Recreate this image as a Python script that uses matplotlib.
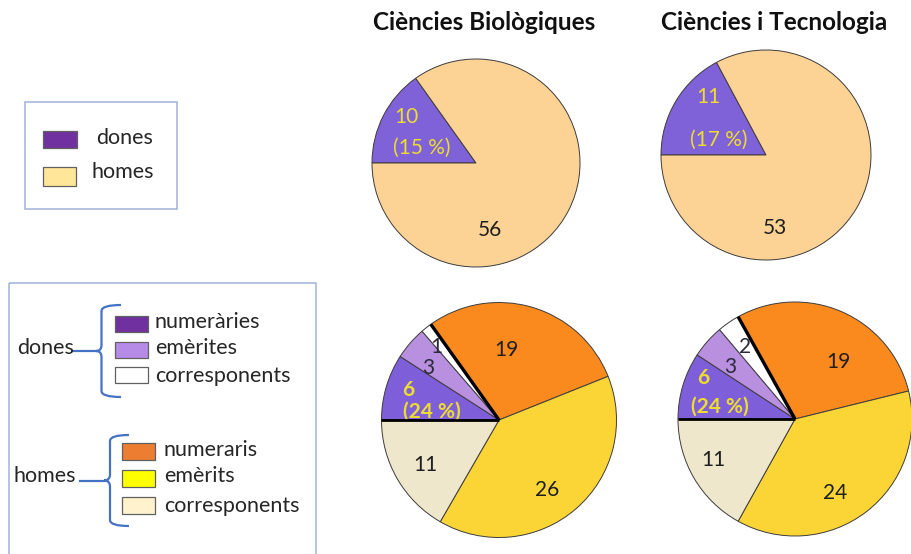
import matplotlib
matplotlib.use("Agg")
import matplotlib.pyplot as plt
import numpy as np
from matplotlib.patches import Rectangle, PathPatch
from matplotlib.path import Path

plt.rcParams['font.family'] = ['Lato', 'DejaVu Sans']

W, H = 912, 554

# ---- data ----
titles = ["Ciències Biològiques", "Ciències i Tecnologia"]
gender_labels = ["dones", "homes"]
bio_gender = [10, 56]
tec_gender = [11, 53]

status_women = ["numeràries", "emèrites", "corresponents"]
status_men = ["numeraris", "emèrits", "corresponents"]
bio_status = [6, 3, 1, 19, 26, 11]
tec_status = [6, 3, 2, 19, 24, 11]

# ---- styling ----
gender_pie_colors = ["#7F62D8", "#FDD395"]
status_pie_colors = ["#7F5FD9", "#B98FE0", "#FFFFFF", "#FB8A1E", "#FBD535", "#EFE7CB"]
gender_key_colors = ["#7030A0", "#FFE699"]
status_key_colors = ["#7030A0", "#B68BE8", "#FFFFFF", "#ED7D31", "#FFFF00", "#FFF2CC"]
YELLOW = "#EDDD2E"
DARK = "#1E1E1E"
BLUE = "#4472C4"
PIE_FS = 15
KEY_FS = 15.5
TITLE_FS = 17.5

fig = plt.figure(figsize=(W / 100, H / 100), dpi=100)


def pie_axes(cx, cy, r):
    ax = fig.add_axes([(cx - r) / W, 1 - (cy + r) / H, 2 * r / W, 2 * r / H])
    ax.set_xlim(-1, 1)
    ax.set_ylim(-1, 1)
    ax.set_aspect('equal')
    ax.axis('off')
    return ax


def draw_pie(ax, values, colors):
    ax.pie(values, colors=colors, startangle=180, counterclock=False, radius=1,
           wedgeprops=dict(edgecolor="#3C3C3C", linewidth=0.7))
    ax.set_xlim(-1, 1)
    ax.set_ylim(-1, 1)
    bounds = 180 - np.cumsum([0] + list(values)) / sum(values) * 360
    return bounds


def radial(ax, theta, lw):
    t = np.deg2rad(theta)
    ax.plot([0, np.cos(t)], [0, np.sin(t)], color="black", lw=lw,
            solid_capstyle='butt', zorder=5)


# ---- top row: women vs men ----
top_specs = [
    (476, 163, 104, bio_gender, [(-0.666, 0.445), (-0.522, 0.141), (0.135, -0.644)]),
    (766, 155, 105, tec_gender, [(-0.55, 0.555), (-0.454, 0.143), (0.086, -0.695)]),
]
for cx, cy, r, vals, pos in top_specs:
    ax = pie_axes(cx, cy, r)
    draw_pie(ax, vals, gender_pie_colors)
    pct = round(vals[0] / sum(vals) * 100)
    ax.text(*pos[0], f"{vals[0]}", color=YELLOW, fontsize=PIE_FS, ha='center', va='center')
    ax.text(*pos[1], f"({pct} %)", color=YELLOW, fontsize=PIE_FS, ha='center', va='center')
    ax.text(*pos[2], f"{vals[1]}", color=DARK, fontsize=PIE_FS, ha='center', va='center')

# ---- bottom row: by category ----
bottom_specs = [
    (499, 420, 117.5, bio_status,
     [(-0.772, 0.255), (-0.60, 0.44), (-0.53, 0.624), (0.066, 0.596),
      (0.406, -0.596), (-0.63, -0.383)], (-0.573, 0.071)),
    (795, 419, 117, tec_status,
     [(-0.784, 0.348), (-0.556, 0.447), (-0.427, 0.618), (0.37, 0.49),
      (0.342, -0.635), (-0.698, -0.35)], (-0.641, 0.105)),
]
for cx, cy, r, vals, pos, pct_pos in bottom_specs:
    ax = pie_axes(cx, cy, r)
    bounds = draw_pie(ax, vals, status_pie_colors)
    radial(ax, bounds[0], 2.0)
    radial(ax, bounds[3], 2.4)
    for i, (v, p) in enumerate(zip(vals, pos)):
        if i == 0:
            ax.text(*p, f"{v}", color=YELLOW, fontsize=PIE_FS, fontweight='bold',
                    ha='center', va='center')
        elif i in (1, 2):
            ax.text(*p, f"{v}", color="#2A2A3A", fontsize=PIE_FS, ha='center', va='center')
        else:
            ax.text(*p, f"{v}", color=DARK, fontsize=PIE_FS, ha='center', va='center')
    pct = round(vals[0] / (vals[0] + vals[3]) * 100)
    ax.text(*pct_pos, f"({pct} %)", color=YELLOW, fontsize=PIE_FS, fontweight='bold',
            ha='center', va='center')

# ---- titles ----
fig.text(484 / W, 1 - 22 / H, titles[0], fontsize=TITLE_FS, fontweight='bold',
         ha='center', va='center', color="#111111")
fig.text(774 / W, 1 - 22 / H, titles[1], fontsize=TITLE_FS, fontweight='bold',
         ha='center', va='center', color="#111111")

# ---- keys (drawn in pixel space) ----
ov = fig.add_axes([0, 0, 1, 1], zorder=-1)
ov.set_xlim(0, W)
ov.set_ylim(H, 0)
ov.axis('off')

frame_kw = dict(fill=False, edgecolor="#9FB3D9", linewidth=1.1)
ov.add_patch(Rectangle((25, 102), 152, 107, **frame_kw))
ov.add_patch(Rectangle((9.5, 283), 307, 300, **frame_kw))

box_kw = dict(edgecolor="#606060", linewidth=0.9)
ov.add_patch(Rectangle((43, 131), 34, 17, facecolor=gender_key_colors[0], **box_kw))
ov.add_patch(Rectangle((43, 167), 33, 18.5, facecolor=gender_key_colors[1], **box_kw))
ov.text(96, 138, gender_labels[0], fontsize=KEY_FS, va='center', ha='left', color="#262626")
ov.text(91.5, 172.5, gender_labels[1], fontsize=KEY_FS, va='center', ha='left', color="#262626")


def brace(x, ytop, ybot, xhook, xtip, xline):
    ymid = (ytop + ybot) / 2
    c = 6
    verts = [(xhook, ytop), (x, ytop), (x, ytop + c),
             (x, ymid - c), (x, ymid), (xtip, ymid),
             (x, ymid), (x, ymid + c),
             (x, ybot - c), (x, ybot), (xhook, ybot)]
    codes = [Path.MOVETO, Path.CURVE3, Path.CURVE3,
             Path.LINETO, Path.CURVE3, Path.CURVE3,
             Path.CURVE3, Path.CURVE3,
             Path.LINETO, Path.CURVE3, Path.CURVE3]
    ov.add_patch(PathPatch(Path(verts, codes), fill=False, edgecolor=BLUE, lw=1.6))
    ov.plot([xline, xtip], [ymid, ymid], color=BLUE, lw=1.6)


ov.text(17, 348, gender_labels[0], fontsize=KEY_FS, va='center', ha='left', color="#262626")
brace(101.5, 305, 397, 121, 96, 72)
key_rows = [(316, 321.5), (341.5, 348.5), (367, 376.5)]
for (y0, yt), col, lab in zip(key_rows, status_key_colors[:3], status_women):
    ov.add_patch(Rectangle((115, y0), 33, 16, facecolor=col, **box_kw))
    ov.text(155, yt, lab, fontsize=KEY_FS, va='center', ha='left', color="#262626")

ov.text(14, 476, gender_labels[1], fontsize=KEY_FS, va='center', ha='left', color="#262626")
brace(110, 435, 526, 129, 104, 80)
key_rows = [(443, 450), (469.5, 476.5), (497, 506.5)]
for (y0, yt), col, lab in zip(key_rows, status_key_colors[3:], status_men):
    ov.add_patch(Rectangle((122, y0), 33, 17, facecolor=col, **box_kw))
    ov.text(164, yt, lab, fontsize=KEY_FS, va='center', ha='left', color="#262626")

fig.savefig("out.png", dpi=100)
